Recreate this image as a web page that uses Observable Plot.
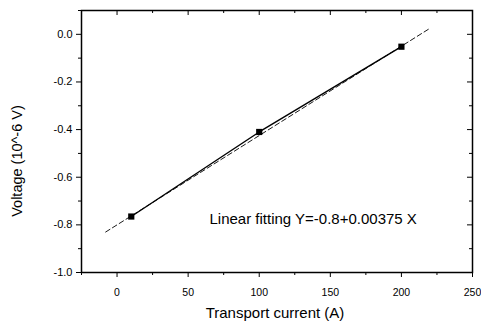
<!DOCTYPE html>
<html><head><meta charset="utf-8">
<script src="https://cdn.jsdelivr.net/npm/d3@7"></script>
<script src="https://cdn.jsdelivr.net/npm/@observablehq/plot@0.6"></script>
<style>body{margin:0;background:#fff;font-family:"Liberation Sans",Arial,sans-serif}</style>
</head><body><div id="chart"></div>
<script>
const currents = [10, 100, 200];
const voltages = [-0.765, -0.41, -0.052];
const fitIntercept = -0.8;
const fitSlope = 0.00375;
const fitRange = [-8, 220];
const xTicks = [0, 50, 100, 150, 200, 250];
const xMinor = [-25, 25, 75, 125, 175, 225];
const yTicks = [0, -0.2, -0.4, -0.6, -0.8, -1.0];
const yMinor = [0.1, -0.1, -0.3, -0.5, -0.7, -0.9];
const annotation = "Linear fitting Y=-0.8+0.00375 X";

const pts = currents.map((c, i) => ({x: c, y: voltages[i]}));
const fit = fitRange.map(x => ({x, y: fitIntercept + fitSlope * x}));

const fmt = d => d === 0 ? "0.0" : d.toFixed(1);
const W = 481, H = 323, ML = 81, MR = 9, MT = 10, MB = 51;
const fw = W - ML - MR, fh = H - MT - MB;

const plot = Plot.plot({
  width: W, height: H,
  marginLeft: ML, marginRight: MR, marginTop: MT, marginBottom: MB,
  style: {fontFamily: "Liberation Sans, Arial, sans-serif", fontSize: "10px", color: "#000"},
  x: {domain: [-25, 250]},
  y: {domain: [-1.0, 0.1]},
  marks: [
    Plot.axisX({ticks: xTicks, tickSize: 5, tickPadding: 11, fontSize: 10.5, label: null}),
    Plot.axisX({ticks: xMinor, tickSize: 3, tickFormat: () => "", label: null}),
    Plot.tickX(xTicks, {x: d => d, insetBottom: fh - 5, stroke: "#000"}),
    Plot.tickX(xMinor, {x: d => d, insetBottom: fh - 3, stroke: "#000"}),
    Plot.axisY({ticks: yTicks, tickSize: 5, tickPadding: 4, tickFormat: fmt, fontSize: 11, label: null}),
    Plot.axisY({ticks: yMinor, tickSize: 3, tickFormat: () => "", label: null}),
    Plot.tickY(yTicks, {y: d => d, insetLeft: fw - 5, stroke: "#000"}),
    Plot.tickY(yMinor, {y: d => d, insetLeft: fw - 3, stroke: "#000"}),
    Plot.frame({stroke: "#000", strokeWidth: 1.5}),
    Plot.line(fit, {x: "x", y: "y", stroke: "#000", strokeWidth: 0.9, strokeDasharray: "5,3"}),
    Plot.line(pts, {x: "x", y: "y", stroke: "#000", strokeWidth: 1.4}),
    Plot.dot(pts, {x: "x", y: "y", symbol: "square", r: 3.5, fill: "#000"}),
    Plot.text([annotation], {x: 65, y: -0.775, text: d => d, textAnchor: "start", fontSize: 15})
  ]
});
const svg = d3.select(plot);
svg.append("text").attr("x", 275).attr("y", 318).attr("text-anchor", "middle")
  .attr("font-size", 15).attr("fill", "#000").text("Transport current (A)");
svg.append("text").attr("transform", "translate(22,161) rotate(-90)").attr("text-anchor", "middle")
  .attr("font-size", 14.5).attr("fill", "#000").text("Voltage (10^-6 V)");
document.getElementById("chart").appendChild(plot);
</script></body></html>
